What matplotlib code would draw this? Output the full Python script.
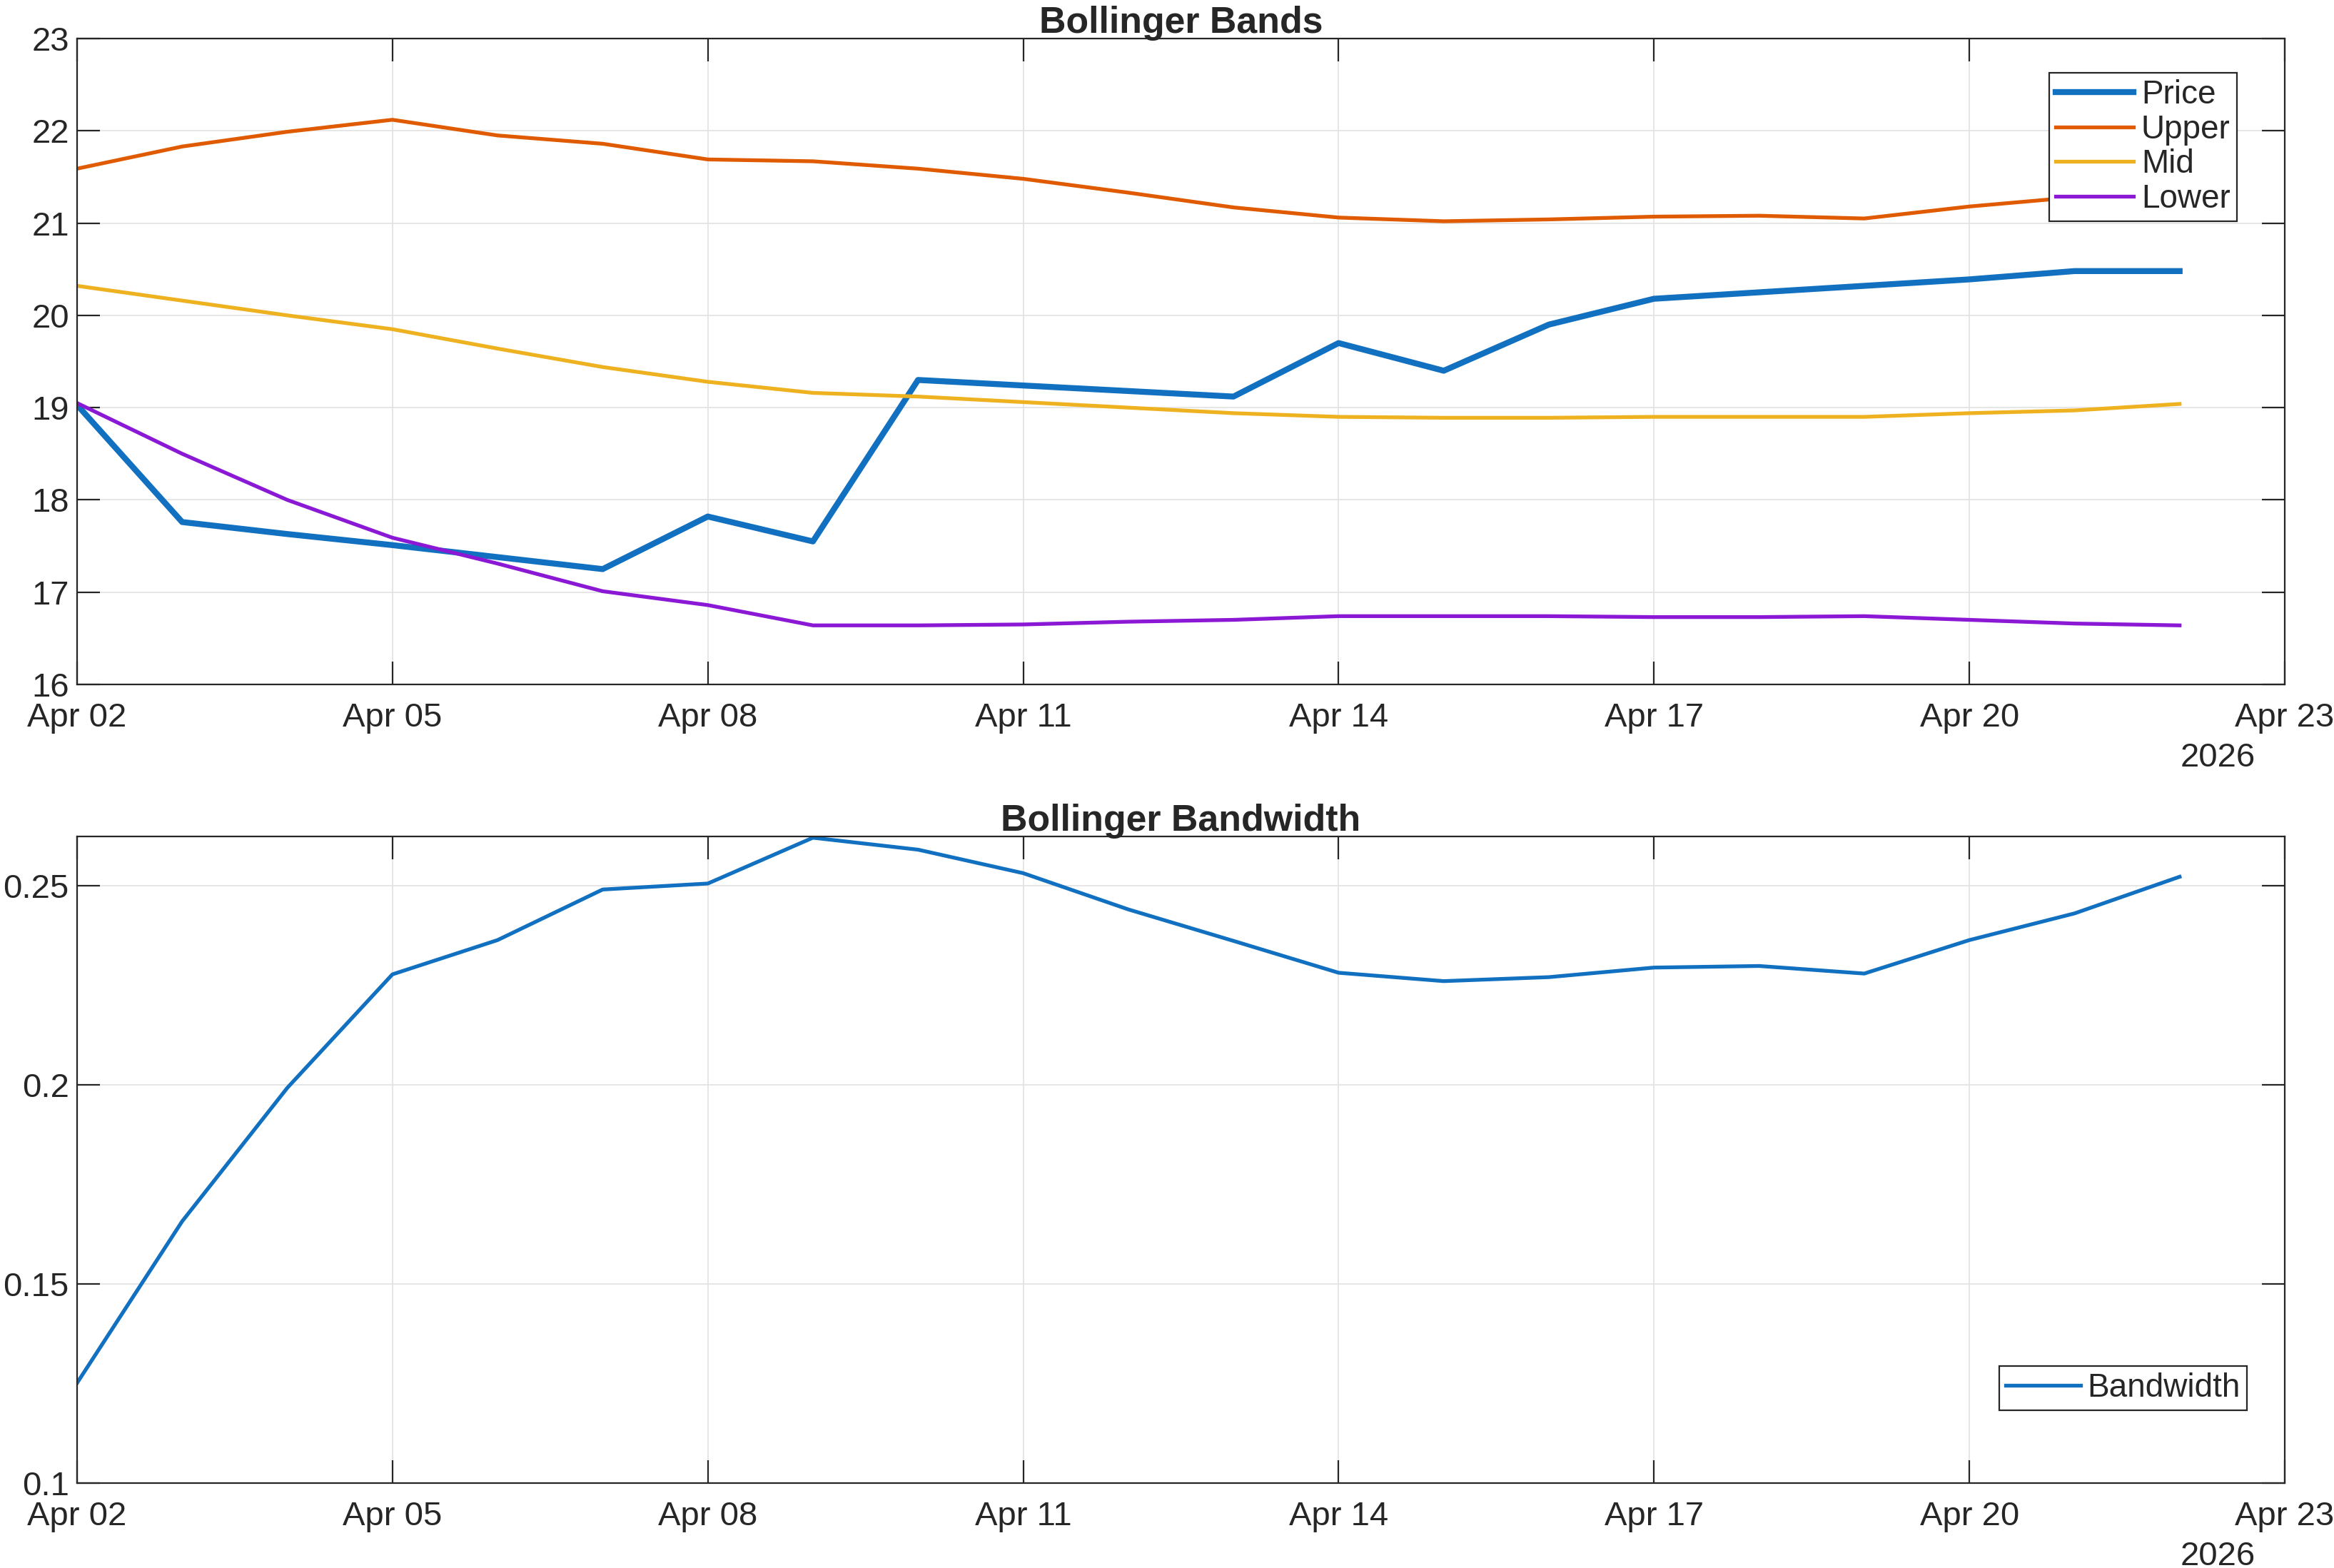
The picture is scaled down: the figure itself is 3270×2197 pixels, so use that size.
import numpy as np
import pandas as pd
import matplotlib
matplotlib.use("Agg")
import matplotlib.pyplot as plt
import matplotlib.dates as mdates
from matplotlib.ticker import FuncFormatter

dates = pd.date_range("2026-04-02", "2026-04-22", freq="D")

price = [19.03, 17.76, 17.63, 17.51, 17.38, 17.25, 17.82, 17.55, 19.30, 19.24, 19.18,
         19.12, 19.70, 19.40, 19.90, 20.18, 20.25, 20.32, 20.39, 20.48, 20.48]
upper = [21.59, 21.83, 21.99, 22.12, 21.95, 21.86, 21.69, 21.67, 21.59, 21.48, 21.33,
         21.17, 21.06, 21.02, 21.04, 21.07, 21.08, 21.05, 21.18, 21.28, 21.43]
mid = [20.32, 20.16, 20.00, 19.85, 19.64, 19.44, 19.28, 19.16, 19.12, 19.06, 19.00,
       18.94, 18.90, 18.89, 18.89, 18.90, 18.90, 18.90, 18.94, 18.97, 19.04]
lower = [19.05, 18.50, 18.00, 17.59, 17.31, 17.01, 16.86, 16.64, 16.64, 16.65, 16.68,
         16.70, 16.74, 16.74, 16.74, 16.73, 16.73, 16.74, 16.70, 16.66, 16.64]
bandwidth = [0.1251, 0.1657, 0.1992, 0.2277, 0.2363, 0.2490, 0.2505, 0.2620, 0.2590,
             0.2531, 0.2440, 0.2361, 0.2281, 0.2260, 0.2270, 0.2294, 0.2298, 0.2279,
             0.2363, 0.2430, 0.2522]

xmin = pd.Timestamp("2026-04-02")
xmax = pd.Timestamp("2026-04-23")
xticks = pd.date_range(xmin, xmax, freq="3D")

plt.rcParams["font.family"] = ["Liberation Sans", "DejaVu Sans"]
txt = "#262626"

fig = plt.figure(figsize=(16.35, 10.985), dpi=200)
ax0 = fig.add_axes([0.0330, 0.5635, 0.9459, 0.4119])
ax1 = fig.add_axes([0.0330, 0.0542, 0.9459, 0.4123])


def style_axes(ax):
    ax.set_xlim(xmin, xmax)
    ax.set_xticks(xticks)
    ax.xaxis.set_major_formatter(mdates.DateFormatter("%b %d"))
    ax.grid(True, color="#e2e2e2", linewidth=0.6)
    ax.set_axisbelow(True)
    ax.tick_params(direction="in", length=11.5, width=0.8, colors=txt,
                   labelsize=17, top=True, right=True)
    ax.tick_params(axis="x", pad=9)
    ax.tick_params(axis="y", pad=4)
    for s in ax.spines.values():
        s.set_color(txt)
        s.set_linewidth(0.8)
    ax.annotate("2026", xy=(0.9696, 0), xycoords="axes fraction",
                xytext=(0, -37), textcoords="offset points",
                ha="center", va="center", fontsize=17, color=txt)


ax0.plot(dates, price, color="#1170C0", linewidth=3.0, label="Price")
ax0.plot(dates, upper, color="#E05A00", linewidth=1.9, label="Upper")
ax0.plot(dates, mid, color="#EEB220", linewidth=1.9, label="Mid")
ax0.plot(dates, lower, color="#8A18D4", linewidth=1.9, label="Lower")
ax0.set_ylim(16, 23)
ax0.set_yticks(range(16, 24))
style_axes(ax0)
ax0.set_title("Bollinger Bands", fontsize=18.7, fontweight="bold", color=txt, pad=3)
leg = ax0.legend(loc="upper right", bbox_to_anchor=(0.9783, 0.947), fontsize=16.5,
                 fancybox=False, framealpha=1, edgecolor=txt, handlelength=2.36,
                 handletextpad=0.25, labelspacing=0.1, borderpad=0.2, borderaxespad=0)
leg.get_frame().set_linewidth(0.8)
for t in leg.get_texts():
    t.set_color(txt)

ax1.plot(dates, bandwidth, color="#1170C0", linewidth=1.9, label="Bandwidth")
ax1.set_ylim(0.1, 0.2623)
ax1.set_yticks([0.1, 0.15, 0.2, 0.25])
ax1.yaxis.set_major_formatter(FuncFormatter(lambda v, p: "%g" % v))
style_axes(ax1)
ax1.set_title("Bollinger Bandwidth", fontsize=18.7, fontweight="bold", color=txt, pad=3)
leg = ax1.legend(loc="upper right", bbox_to_anchor=(0.9829, 0.181), fontsize=16.5,
                 fancybox=False, framealpha=1, edgecolor=txt, handlelength=2.3,
                 handletextpad=0.2, borderpad=0.2, borderaxespad=0)
leg.get_frame().set_linewidth(0.8)
for t in leg.get_texts():
    t.set_color(txt)

fig.savefig("out.png", dpi=200)
